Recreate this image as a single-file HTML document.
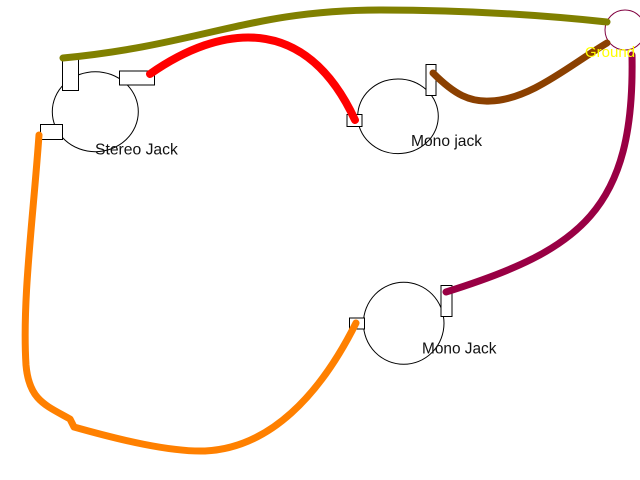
<!DOCTYPE html>
<html>
<head>
<meta charset="utf-8">
<style>
html,body{margin:0;padding:0;background:#fff;}
svg{display:block;}
text{font-family:"Liberation Sans",Arial,sans-serif;}
</style>
</head>
<body>
<svg width="640" height="480" viewBox="0 0 640 480" xmlns="http://www.w3.org/2000/svg">
  <rect x="0" y="0" width="640" height="480" fill="#fff"/>

  <!-- Stereo Jack -->
  <ellipse cx="95.3" cy="111.7" rx="43" ry="40" fill="none" stroke="#000" stroke-width="1"/>
  <rect x="62.5" y="55.5" width="16" height="35" fill="#fff" stroke="#000" stroke-width="1"/>
  <rect x="119.5" y="71" width="35" height="14" fill="#fff" stroke="#000" stroke-width="1"/>
  <rect x="40.5" y="124.5" width="22" height="15" fill="#fff" stroke="#000" stroke-width="1"/>
  <text x="95" y="154.5" font-size="15.7" fill="#111">Stereo Jack</text>

  <!-- Mono jack (top) -->
  <ellipse cx="398" cy="116.3" rx="40.3" ry="37.3" fill="none" stroke="#000" stroke-width="1"/>
  <rect x="347" y="114.5" width="15" height="12" fill="#fff" stroke="#000" stroke-width="1"/>
  <rect x="426" y="64.5" width="10" height="31" fill="#fff" stroke="#000" stroke-width="1"/>
  <text x="411" y="146" font-size="15.6" fill="#111">Mono jack</text>

  <!-- Mono Jack (bottom) -->
  <ellipse cx="403.7" cy="323.3" rx="40.3" ry="41" fill="none" stroke="#000" stroke-width="1"/>
  <rect x="349.5" y="318" width="15" height="11" fill="#fff" stroke="#000" stroke-width="1"/>
  <rect x="441" y="285.5" width="11" height="31" fill="#fff" stroke="#000" stroke-width="1"/>
  <text x="422" y="353.5" font-size="15.4" fill="#111">Mono Jack</text>

  <!-- Ground -->
  <circle cx="625" cy="30" r="20" fill="#fff" stroke="#800040" stroke-width="1"/>

  <!-- Wires -->
  <g fill="none" stroke-linecap="round" stroke-linejoin="round">
    <!-- olive -->
    <path d="M63,58 C200,45 250,10 380,10 C480,10 560,17 607,22" stroke="#808000" stroke-width="7"/>
    <!-- red -->
    <path d="M150,74 C220,25 305,12 355,120" stroke="#ff0000" stroke-width="8"/>
    <!-- brown -->
    <path d="M433,73 C455,95 470,102 490,101 C530,100 570,65 607,43" stroke="#8b4000" stroke-width="7"/>
    <!-- purple -->
    <path d="M632,55 C635,210 580,250 446,292" stroke="#990044" stroke-width="7"/>
    <!-- orange -->
    <path d="M39,135 C33,220 22,300 26,365 C29,400 45,405 70,419 L74,427 C120,440 170,452 205,451 C270,448 320,395 356,323" stroke="#ff8000" stroke-width="7"/>
  </g>

  <text x="585" y="57" font-size="15" fill="#ffff00">Ground</text>
</svg>
</body>
</html>
